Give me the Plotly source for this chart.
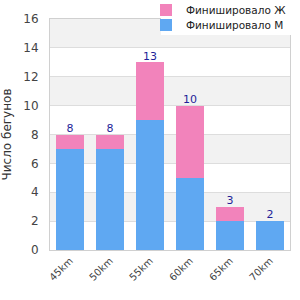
import plotly.graph_objects as go

categories = ["45km", "50km", "55km", "60km", "65km", "70km"]
finished_m = [7, 7, 9, 5, 2, 2]
finished_f = [1, 1, 4, 5, 1, 0]
totals = [m + f for m, f in zip(finished_m, finished_f)]

font_family = "DejaVu Sans, Verdana, sans-serif"

fig = go.Figure()
fig.add_trace(go.Bar(x=categories, y=finished_m, name="Финишировало М",
                     legend="legend2",
                     marker=dict(color="#5fa8f2", line=dict(width=0))))
fig.add_trace(go.Bar(x=categories, y=finished_f, name="Финишировало Ж",
                     legend="legend",
                     marker=dict(color="#f283bb", line=dict(width=0))))
fig.add_trace(go.Scatter(x=categories, y=totals, mode="text",
                         text=[str(t) for t in totals], textposition="top center",
                         textfont=dict(color="#1f1f99", size=11, family=font_family),
                         showlegend=False, hoverinfo="skip"))

shapes = []
for y0 in [2, 6, 10, 14]:
    shapes.append(dict(type="rect", xref="paper", yref="y", x0=0, x1=1, y0=y0, y1=y0 + 2,
                       fillcolor="#f2f2f2", line=dict(width=0), layer="below"))
# white legend background box
shapes.append(dict(type="rect", xref="paper", yref="paper", x0=0.4625, x1=1.0125,
                   y0=0.931, y1=1.09, fillcolor="white", line=dict(width=0), layer="above"))

leg_common = dict(xanchor="left", yanchor="top", bgcolor="rgba(0,0,0,0)",
                  font=dict(size=10.5, color="#222"), itemwidth=30,
                  borderwidth=0)

fig.update_layout(
    width=300, height=300,
    margin=dict(l=50, r=10, t=19, b=50, autoexpand=False),
    barmode="stack", bargap=0.28,
    paper_bgcolor="white", plot_bgcolor="white",
    font=dict(family=font_family, color="#444", size=11),
    shapes=shapes,
    showlegend=True,
    legend=dict(x=0.4, y=1.102, **leg_common),
    legend2=dict(x=0.4, y=1.037, **leg_common),
    yaxis=dict(range=[0, 16], dtick=2, gridcolor="#dddddd", zeroline=False,
               showline=True, linecolor="#d0d0d0", mirror=True,
               ticks="outside", ticklen=8, tickcolor="rgba(0,0,0,0)",
               title=dict(text="Число бегунов", font=dict(size=12, color="#333"), standoff=16),
               tickfont=dict(size=12, color="#444")),
    xaxis=dict(tickangle=-45, showline=True, linecolor="#d0d0d0", mirror=True,
               tickfont=dict(size=10, color="#444")),
)

fig.write_html("out.html")
